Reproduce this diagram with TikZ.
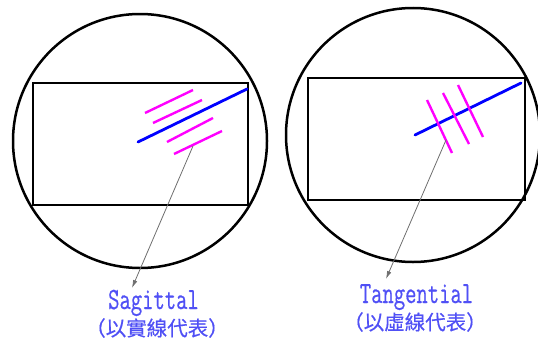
\documentclass[tikz,border=0pt]{standalone}
\usepackage{fontspec}
\usepackage{graphicx}
\setmonofont[FakeBold=0.6]{Latin Modern Mono}
\newfontfamily\cjk[FakeBold=0.4]{Noto Sans CJK TC}
\usetikzlibrary{arrows.meta}
\definecolor{labelblue}{RGB}{80,80,245}
\definecolor{leadgray}{RGB}{110,110,110}
\definecolor{pink}{RGB}{255,0,255}
\begin{document}
\begin{tikzpicture}[x=1pt,y=-1pt,
  frame/.style={draw=black, line width=2.5pt},
  chief/.style={draw=blue, line width=2.8pt, line cap=round},
  ray/.style={draw=pink, line width=2.4pt},
  lead/.style={draw=leadgray, line width=0.8pt, -{Latex[length=8pt,width=4.5pt]}},
  latin/.style={inner sep=0pt, anchor=base, text=labelblue, font=\ttfamily\fontsize{22}{24}\selectfont},
  han/.style={inner sep=0pt, text=labelblue, font=\cjk\fontsize{20.5}{22}\selectfont}]
\useasboundingbox (0,0) rectangle (538,340);
% ---- left: sagittal ----
\node[frame, circle, minimum size=254pt, inner sep=0pt] (lc) at (140,141) {};
\node[frame, rectangle, inner sep=0pt, minimum width=215pt, minimum height=122pt] (lr) at (140.5,144) {};
\draw[chief] (138,142) -- (247,89);
\draw[ray] (145,113) -- (193,90);
\draw[ray] (153,123) -- (202,100);
\draw[ray] (167,142) -- (213,118);
\draw[ray] (174,154) -- (222,131);
\coordinate (ls) at (193,146);
\coordinate (le) at (132,288);
\draw[lead] (ls) -- (le);
\node[latin] (lt1) at (153.5,309) {\scalebox{1}[1.4]{Sagittal}};
\node[han] (lt2) at (157,328) {（以實線代表）};
% ---- right: tangential ----
\node[frame, circle, minimum size=254pt, inner sep=0pt] (rc) at (413,135) {};
\node[frame, rectangle, inner sep=0pt, minimum width=217pt, minimum height=122pt] (rr) at (416.5,139) {};
\draw[chief] (415,135) -- (521,83);
\draw[ray] (427,100) -- (452,153);
\draw[ray] (443,93) -- (469,144);
\draw[ray] (458,85) -- (483,137);
\coordinate (rs) at (446,140);
\coordinate (re) at (386,279);
\draw[lead] (rs) -- (re);
\node[latin] (rt1) at (416.5,303) {\scalebox{1}[1.4]{Tangential}};
\node[han] (rt2) at (415,322) {（以虛線代表）};
\end{tikzpicture}
\end{document}
